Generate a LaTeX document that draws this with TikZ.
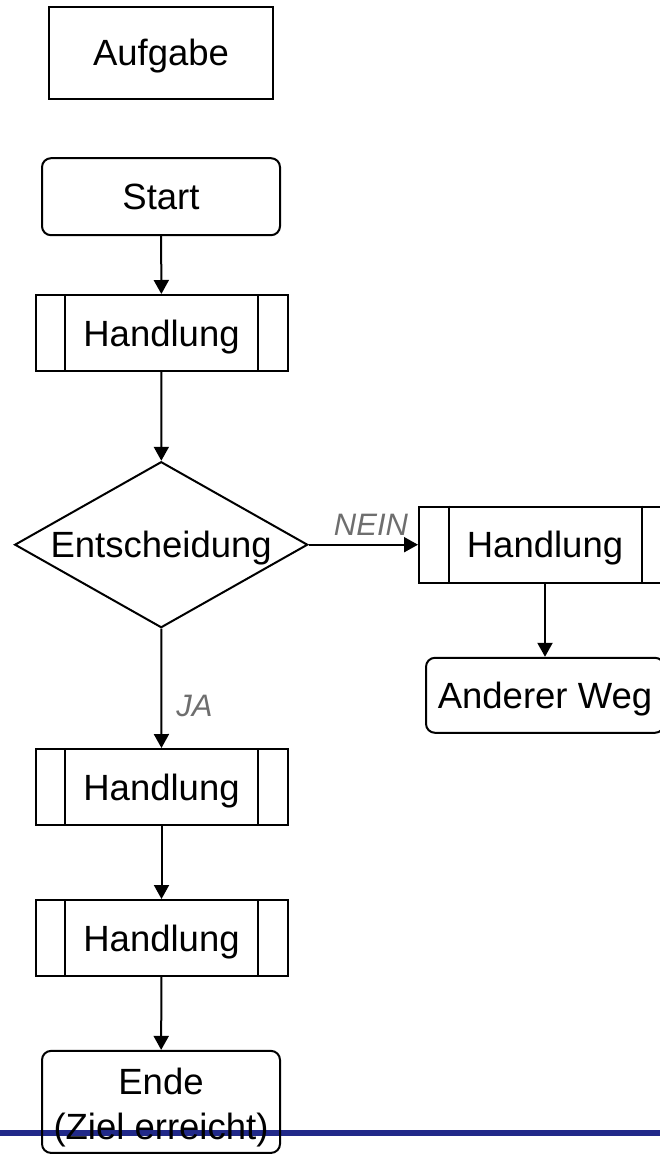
\documentclass[tikz,border=0pt]{standalone}
\usepackage{fontspec}
\setmainfont{Liberation Sans}
\usetikzlibrary{shapes.geometric,arrows.meta}
\definecolor{rulecolor}{RGB}{33,41,137}
\definecolor{labelgray}{RGB}{110,110,110}
\begin{document}
\begin{tikzpicture}[x=1pt,y=-1pt,line width=2pt,
  every node/.style={inner sep=0pt,font=\fontsize{36.5}{45}\selectfont,
    text height=26pt,text depth=0pt},
  taskbox/.style={draw,rectangle,minimum width=224pt,minimum height=92pt},
  terminal/.style={draw,rectangle,rounded corners=9pt,minimum width=238pt,minimum height=77pt},
  subproc/.style={draw,rectangle,minimum width=252pt,minimum height=76pt,
    append after command={\pgfextra{\let\subprocnode\tikzlastnode}
      ([xshift=30.5pt]\subprocnode.north west) edge[-] ([xshift=30.5pt]\subprocnode.south west)
      ([xshift=-30.5pt]\subprocnode.north east) edge[-] ([xshift=-30.5pt]\subprocnode.south east)}},
  decision/.style={draw,diamond,aspect=1.765,minimum width=293pt,minimum height=166pt},
  flow/.style={-{Triangle[length=14pt,width=15pt]}},
  branchlabel/.style={font=\fontsize{31}{36}\selectfont\itshape,text=labelgray,text height=22pt,text depth=0pt}
]
\useasboundingbox (0,0) rectangle (660,1155);

% page rule at the foot
\coordinate (rule west) at (0,1132.7);
\coordinate (rule east) at (660,1132.7);
\draw[rulecolor,line width=6pt] (rule west) -- (rule east);

% nodes
\node[taskbox] (task) at (161,52.8) {Aufgabe};
\node[terminal] (start) at (161,196.7) {Start};
\node[subproc] (h1) at (161.5,333) {Handlung};
\node[decision] (dec) at (161.2,544.7) {Entscheidung};
\node[subproc] (h4) at (545,544.7) {Handlung};
\node[terminal,minimum height=75pt] (alt) at (545,695.3) {Anderer Weg};
\node[subproc] (h2) at (161.5,787) {Handlung};
\node[subproc] (h3) at (161.5,938) {Handlung};
\node[terminal,minimum height=102pt] (ende) at (161,1101.9) {};
\node[align=center,text height=,text depth=,yshift=-6pt] (endetxt) at (ende.center) {Ende\\(Ziel erreicht)};

% connectors
\draw[flow] (start) -- (h1);
\draw[flow] (h1) -- (dec);
\draw[flow] (dec) -- (h4) node[branchlabel,pos=1,anchor=base east,xshift=-9pt,yshift=9.7pt] {NEIN};
\draw[flow] (h4) -- (alt);
\draw[flow] (dec) -- (h2) node[branchlabel,pos=0.736,anchor=base west,xshift=14pt] {JA};
\draw[flow] (h2) -- (h3);
\draw[flow] (h3) -- (ende);
\end{tikzpicture}
\end{document}
